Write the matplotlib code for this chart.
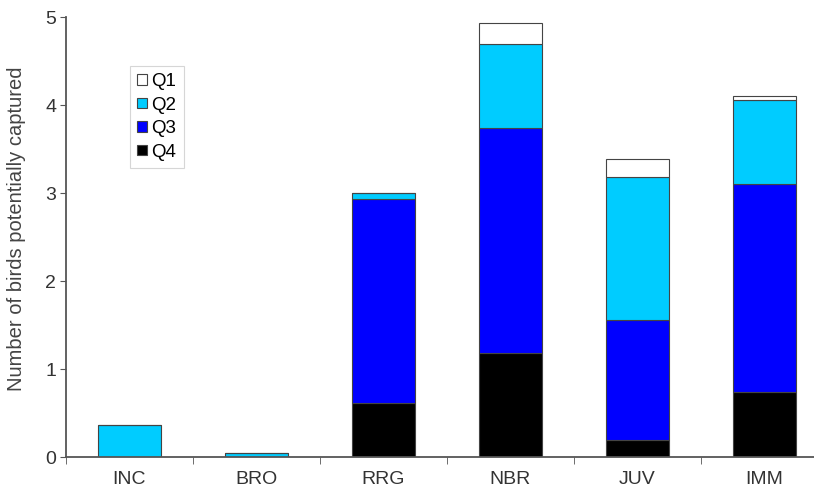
import numpy as np
import matplotlib.pyplot as plt

# Birds potentially captured per status, split by quarter
stages = ['INC', 'BRO', 'RRG', 'NBR', 'JUV', 'IMM']
q4 = [0.0, 0.0, 0.62, 1.18, 0.19, 0.74]
q3 = [0.0, 0.0, 2.31, 2.56, 1.37, 2.36]
q2 = [0.36, 0.05, 0.07, 0.95, 1.62, 0.96]
q1 = [0.0, 0.0, 0.0, 0.24, 0.21, 0.04]

plt.rcParams['font.family'] = ['Liberation Sans', 'DejaVu Sans']

fig = plt.figure(figsize=(8.14, 4.92), dpi=100)
ax = fig.add_axes([0.081, 0.071, 0.936, 0.894])

x = np.arange(len(stages))
width = 0.5
edge = dict(edgecolor='#444444', linewidth=0.8)

b4 = np.array(q4)
b3 = b4 + np.array(q3)
b2 = b3 + np.array(q2)

ax.bar(x, q4, width, color='black', label='Q4', **edge)
ax.bar(x, q3, width, bottom=b4, color='#0000ff', label='Q3', **edge)
ax.bar(x, q2, width, bottom=b3, color='#00ccff', label='Q2', **edge)
ax.bar(x, q1, width, bottom=b2, color='white', label='Q1', **edge)

ax.set_xlim(-0.5, len(stages) - 0.5)
ax.set_ylim(0, 5)
ax.set_yticks(range(6))
ax.set_xticks(x)
ax.set_xticklabels(stages)
ax.set_xticks(np.arange(-0.5, len(stages)), minor=True)

for side in ['top', 'right']:
    ax.spines[side].set_visible(False)
for side in ['left', 'bottom']:
    ax.spines[side].set_color('#555555')
    ax.spines[side].set_linewidth(1.3)

ax.tick_params(axis='x', which='major', length=0, pad=10, labelsize=14, labelcolor='#333333')
ax.tick_params(axis='x', which='minor', length=5, direction='out', color='#555555')
ax.tick_params(axis='y', length=4, direction='out', color='#555555', labelsize=14,
               labelcolor='#333333', pad=3)

ax.set_ylabel('Number of birds potentially captured', fontsize=14.5, color='#444444')
ax.yaxis.set_label_coords(-0.052, 0.52)

handles, labels = ax.get_legend_handles_labels()
leg = ax.legend(handles[::-1], labels[::-1], loc='upper left', bbox_to_anchor=(0.084, 0.89),
                fontsize=13.5, handlelength=0.5, handleheight=0.5, handletextpad=0.25,
                labelspacing=0.35, borderpad=0.4, borderaxespad=0, frameon=True, fancybox=False)
leg.get_frame().set_edgecolor('#cccccc')
leg.get_frame().set_linewidth(0.8)

fig.savefig('out.png', dpi=100)
